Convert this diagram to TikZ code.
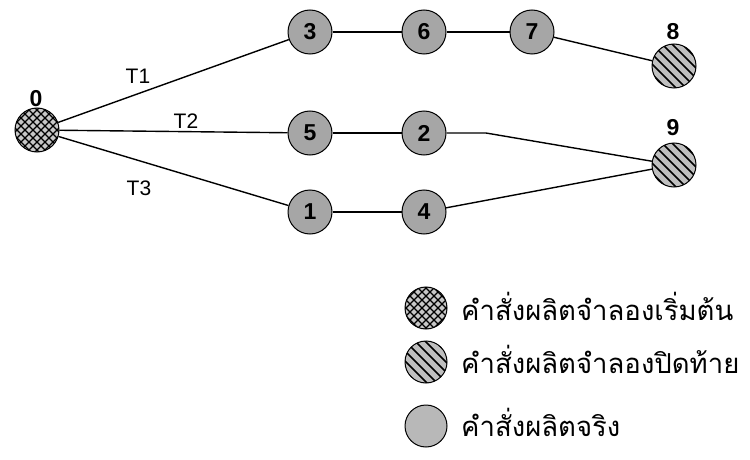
\documentclass[tikz,border=0pt]{standalone}
\usepackage{fontspec}
\setmainfont{Liberation Sans}
\newfontfamily\thaifont[Script=Thai]{Loma}
\begin{document}
\begin{tikzpicture}[x=1pt,y=-1pt,
  base/.style={circle,draw=black,line width=1pt,minimum size=44pt,inner sep=0pt,font=\bfseries\fontsize{23}{23}\selectfont},
  real/.style={base,fill=black!35},
  startn/.style={base,fill=black!22,path picture={
     \foreach \i in {-60,-52,...,60}{
       \draw[line width=1.1pt] ($(path picture bounding box.center)+(\i-30,-30)$) -- ++(60,60);
       \draw[line width=1.1pt] ($(path picture bounding box.center)+(\i+30,-30)$) -- ++(-60,60);}}},
  endn/.style={base,fill=black!25,path picture={
     \foreach \i in {-60,-50,...,60}{
       \draw[line width=1.6pt] ($(path picture bounding box.center)+(\i-30,-30)$) -- ++(60,60);}}},
  edge/.style={line width=1.4pt},
  toplab/.style={font=\bfseries\fontsize{23}{23}\selectfont},
  tlab/.style={font=\fontsize{21}{21}\selectfont},
  leg/.style={anchor=west,inner sep=0pt,font=\thaifont\fontsize{27.5}{28}\selectfont}
]
\usetikzlibrary{calc}
\useasboundingbox (0,0) rectangle (750,460);
\node[startn] (n0) at (37,130) {};
\node[toplab] (l0) at (36,99) {0};
\node[real] (n3) at (310,32) {3};
\node[real] (n6) at (424,32) {6};
\node[real] (n7) at (532,32) {7};
\node[endn] (n8) at (674,66) {};
\node[toplab] (l8) at (673,32) {8};
\node[real] (n5) at (310,133) {5};
\node[real] (n2) at (424,133) {2};
\node[endn] (n9) at (674,165) {};
\node[toplab] (l9) at (673,128) {9};
\node[real] (n1) at (310,212) {1};
\node[real] (n4) at (424,212) {4};
\coordinate (k) at (486,133);
\draw[edge] (n0) -- (n3);
\draw[edge] (n0) -- (n5);
\draw[edge] (n0) -- (n1);
\draw[edge] (n3) -- (n6);
\draw[edge] (n6) -- (n7);
\draw[edge] (n7) -- (n8);
\draw[edge] (n5) -- (n2);
\draw[edge] (n2) -- (k) -- (n9);
\draw[edge] (n1) -- (n4);
\draw[edge] (n4) -- (n9);
\node[tlab] (t1) at (138,76) {T1};
\node[tlab] (t2) at (186,121) {T2};
\node[tlab] (t3) at (139,188) {T3};
\node[startn,draw=none,minimum size=42pt] (s1) at (426,308) {};
\node[endn,draw=none,minimum size=42pt] (s2) at (426,362) {};
\node[real,fill=black!28,minimum size=42pt] (s3) at (426,426) {};
\draw[line width=1pt] (s1) circle (21pt);
\draw[line width=1pt] (s2) circle (21pt);
\node[leg] (x1) at (461,306) {คำสั่งผลิตจำลองเริ่มต้น};
\node[leg] (x2) at (461,359) {คำสั่งผลิตจำลองปิดท้าย};
\node[leg] (x3) at (461,422) {คำสั่งผลิตจริง};
\end{tikzpicture}
\end{document}
